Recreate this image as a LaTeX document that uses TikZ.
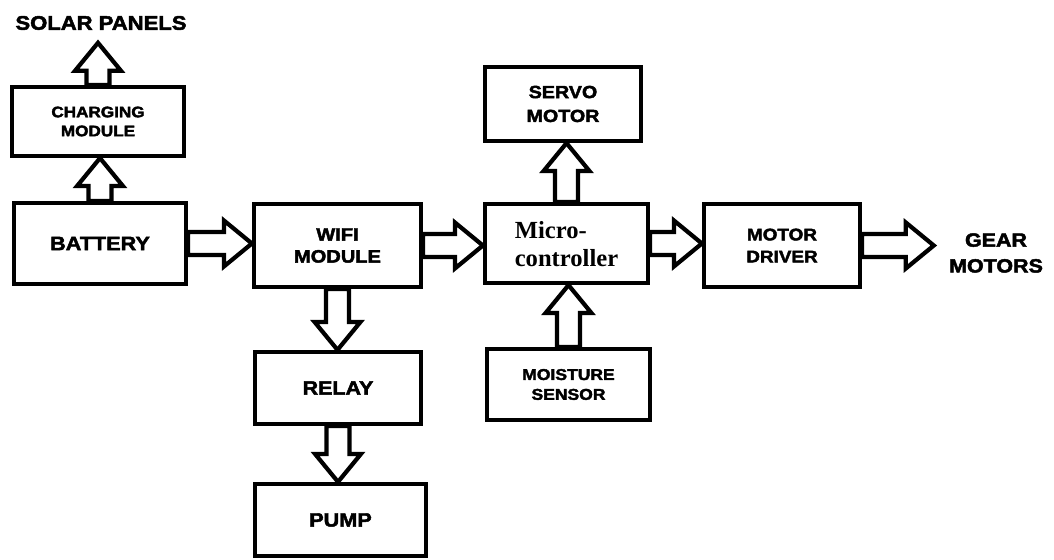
\documentclass[tikz,border=0pt]{standalone}
\usepackage{fontspec}
\setmainfont{Liberation Sans}
\newfontfamily\heavyfont{Liberation Sans}[FakeStretch=1.12,FakeBold=2.4]
\newfontfamily\microfont{Liberation Serif}
\usetikzlibrary{calc}
\newcommand{\shaftw}{0.23cm}
\newcommand{\headw}{0.46cm}
\newcommand{\headl}{0.56cm}

\begin{document}
\begin{tikzpicture}[
        x=0.02cm, y=-0.02cm,
        box/.style={draw, line width=2.4pt, inner sep=0pt, align=center},
        lbl/.style 2 args={font=\heavyfont\bfseries\fontsize{#1}{#2}\selectfont},
        fatarrow/.style={draw, line width=2.4pt, fill=white, line join=miter,
            to path={let \p1=(\tikztostart), \p2=(\tikztotarget),
                \n1={veclen(\x2-\x1,\y2-\y1)}, \n2={atan2(\y2-\y1,\x2-\x1)} in
                ([shift={(\p1)},rotate=\n2]0pt,\shaftw)
                -- ([shift={(\p1)},rotate=\n2]\n1-\headl,\shaftw)
                -- ([shift={(\p1)},rotate=\n2]\n1-\headl,\headw)
                -- ([shift={(\p1)},rotate=\n2]\n1+0pt,0pt)
                -- ([shift={(\p1)},rotate=\n2]\n1-\headl,-\headw)
                -- ([shift={(\p1)},rotate=\n2]\n1-\headl,-\shaftw)
                -- ([shift={(\p1)},rotate=\n2]0pt,-\shaftw) -- cycle}}
    ]
        \useasboundingbox (0,0) rectangle (1054,560);
        \fill[white] (0,0) rectangle (1054,560);

        % Power side
        \node[lbl={11.2}{14}, inner sep=0.25cm] (solar) at (101,23) {SOLAR PANELS};
        \node[box, lbl={8.7}{10.8}, minimum width=3.44cm, minimum height=1.38cm]
            (chg) at (98,121.5) {CHARGING\\MODULE};
        \node[box, lbl={11}{14}, minimum width=3.44cm, minimum height=1.62cm]
            (bat) at (100,243.5) {BATTERY};

        % Wifi branch
        \node[box, lbl={10.2}{12.5}, minimum width=3.34cm, minimum height=1.66cm]
            (wifi) at (337.5,245.5) {WIFI\\MODULE};
        \node[box, lbl={10.9}{14}, minimum width=3.32cm, minimum height=1.44cm]
            (relay) at (338,388) {RELAY};
        \node[box, lbl={11}{14}, minimum width=3.42cm, minimum height=1.44cm]
            (pump) at (340.5,520) {PUMP};

        % Controller and motors
        \node[box, font=\microfont\bfseries\fontsize{14}{16}\selectfont, align=left,
              minimum width=3.26cm, minimum height=1.58cm]
            (micro) at (566.5,243.5) {\\[-6pt]Micro-\\controller};
        \node[box, lbl={10}{13.6}, minimum width=3.12cm, minimum height=1.48cm]
            (servo) at (563,104) {SERVO\\MOTOR};
        \node[box, lbl={8.9}{11.3}, minimum width=3.26cm, minimum height=1.42cm]
            (moist) at (568.5,384.5) {MOISTURE\\SENSOR};
        \node[box, lbl={9.6}{12.5}, minimum width=3.12cm, minimum height=1.66cm]
            (drv) at (782,245.5) {MOTOR\\DRIVER};
        \node[lbl={10.9}{14.7}, align=center, inner xsep=0.3cm]
            (gear) at (996,253) {GEAR\\MOTORS};

        % Arrows
        \draw[fatarrow] (bat.north) to (bat.north |- chg.south);
        \draw[fatarrow] (chg.north) to (chg.north |- solar.south);
        \draw[fatarrow] (bat.east) to (bat.east -| wifi.west);
        \draw[fatarrow] (wifi.east) to (wifi.east -| micro.west);
        \draw[fatarrow] (wifi.south) to (wifi.south |- relay.north);
        \draw[fatarrow] (relay.south) to (relay.south |- pump.north);
        \draw[fatarrow] (micro.north) to (micro.north |- servo.south);
        \draw[fatarrow] (moist.north) to (moist.north |- micro.south);
        \draw[fatarrow] (micro.east) to (micro.east -| drv.west);
        \draw[fatarrow] (drv.east) to (drv.east -| gear.west);
    \end{tikzpicture}
\end{document}
